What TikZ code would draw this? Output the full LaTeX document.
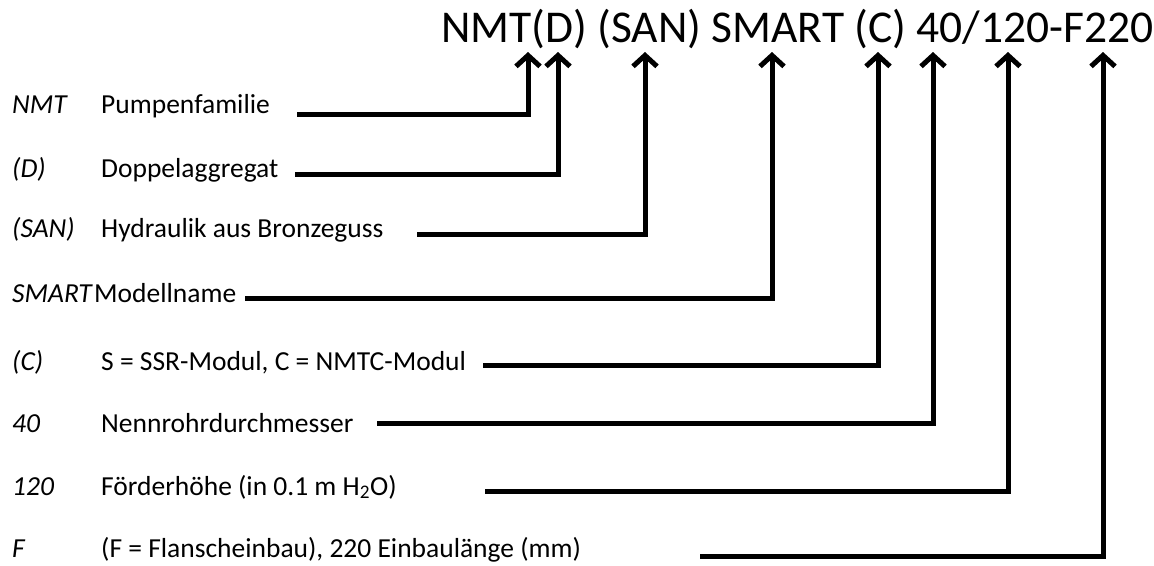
\documentclass[tikz,border=0pt]{standalone}
\usepackage{fontspec}
\setmainfont{Carlito}
\usetikzlibrary{arrows.meta,positioning}

\begin{document}
\begin{tikzpicture}[x=1pt, y=-1pt,
    code/.style={anchor=base west, inner sep=0pt, font=\fontsize{27.5}{33}\selectfont\itshape},
    desc/.style={anchor=base west, inner sep=0pt, font=\fontsize{27.5}{33}\selectfont},
    link/.style={line width=5pt, line join=miter, -{Straight Barb[length=11pt, width=24pt]}}]
    \useasboundingbox (0,0) rectangle (1154,565);

    % type designation on top
    \node[anchor=base west, inner sep=0pt, font=\fontsize{45.5}{54}\selectfont] (title) at (441,42) {NMT(D) (SAN) SMART (C) 40/120-F220};

    % legend on the left
    \node[code] (cNMT) at (12,113) {NMT};
    \node[desc] (dNMT) at (101,113) {Pumpenfamilie};
    \node[code] (cD) at (12,177) {(D)};
    \node[desc] (dD) at (101,177) {Doppelaggregat};
    \node[code] (cSAN) at (12,237) {(SAN)};
    \node[desc] (dSAN) at (101,237) {Hydraulik aus Bronzeguss};
    \node[code] (cSMART) at (12,302) {SMART};
    \node[desc] (dSMART) at (94,302) {Modellname};
    \node[code] (cC) at (12,370) {(C)};
    \node[desc] (dC) at (101,370) {S = SSR-Modul, C = NMTC-Modul};
    \node[code] (c40) at (12,432) {40};
    \node[desc] (d40) at (101,432) {Nennrohrdurchmesser};
    \node[code] (c120) at (12,495) {120};
    \node[desc] (d120) at (101,495) {Förderhöhe (in 0.1 m H\textsubscript{2}O)};
    \node[code] (cF) at (12,557) {F};
    \node[desc] (dF) at (101,557) {(F = Flanscheinbau), 220 Einbaulänge (mm)};

    % line starts and arrow tips
    \coordinate (sNMT) at (297,114);   \coordinate (tNMT) at (528,52);
    \coordinate (sD) at (295,174);     \coordinate (tD) at (558,52);
    \coordinate (sSAN) at (417,234);   \coordinate (tSAN) at (645,52);
    \coordinate (sSMART) at (245,298); \coordinate (tSMART) at (772,52);
    \coordinate (sC) at (483,365);     \coordinate (tC) at (878,52);
    \coordinate (s40) at (377,423);    \coordinate (t40) at (933,52);
    \coordinate (s120) at (485,491);   \coordinate (t120) at (1008,52);
    \coordinate (sF) at (700,556);     \coordinate (tF) at (1103,52);

    \foreach \k in {NMT,D,SAN,SMART,C,40,120,F}
        \draw[link] (s\k) -| (t\k);
\end{tikzpicture}
\end{document}
